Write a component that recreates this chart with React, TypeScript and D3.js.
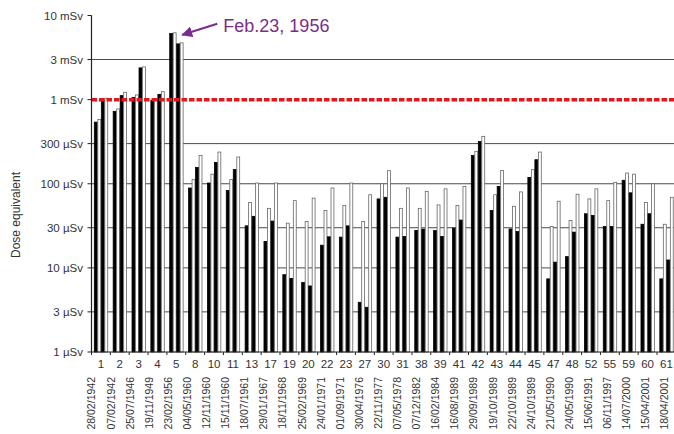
import React from "react";
import * as d3 from "d3";

const events = ["1", "2", "3", "4", "5", "8", "10", "11", "13", "17", "19", "20", "22", "23", "27", "30", "31", "38", "39", "41", "42", "43", "44", "45", "47", "48", "52", "55", "59", "60", "61"];
const dates = ["28/02/1942", "07/02/1942", "25/07/1946", "19/11/1949", "23/02/1956", "04/05/1960", "12/11/1960", "15/11/1960", "18/07/1961", "29/01/1967", "18/11/1968", "25/02/1969", "24/01/1971", "01/09/1971", "30/04/1976", "22/11/1977", "07/05/1978", "07/12/1982", "16/02/1984", "16/08/1989", "29/09/1989", "19/10/1989", "22/10/1989", "24/10/1989", "21/05/1990", "24/05/1990", "15/06/1991", "06/11/1997", "14/07/2000", "15/04/2001", "18/04/2001"];

// dose values in µSv, four bars per event (black, white, black, white)
const blackA = [540, 726, 1064, 980, 6100, 89, 102, 83, 31.6, 20.6, 8.3, 6.7, 18.6, 23.2, 3.9, 66, 23.2, 27.8, 27.8, 29.7, 217, 48, 29, 119, 7.4, 13.6, 44, 31, 110, 33, 7.4];
const whiteA = [580, 775, 1137, 1000, 6225, 112, 130, 112, 60, 51, 34, 35.6, 48, 55, 35.6, 100, 51, 51, 56, 55, 243, 74, 54, 147, 31, 36.6, 66, 63, 134, 60, 33];
const blackB = [1000, 1116, 2385, 1156, 4600, 156, 179, 148, 41, 36, 7.5, 6.1, 23.4, 31.6, 3.4, 69, 23.6, 28.9, 23.6, 37, 317, 93, 27, 193, 11.7, 26.6, 42, 31, 78, 44, 12.4];
const whiteB = [1040, 1222, 2450, 1245, 4730, 217, 238, 208, 102, 102, 63, 67.5, 89, 102, 74, 143, 89, 81, 87, 93, 366, 144, 80, 238, 62, 75, 87, 104, 130, 100, 69];

const yTicks = [1, 3, 10, 30, 100, 300, 1000, 3000, 10000];
const yTickLabels = ["1 µSv", "3 µSv", "10 µSv", "30 µSv", "100 µSv", "300 µSv", "1 mSv", "3 mSv", "10 mSv"];
const limit = 1000;
const peakEvent = "5";

const W = 674;
const H = 434;
const left = 91.5;
const bottom = 352;
const font = "'Liberation Sans', Arial, sans-serif";

const series = [
  { key: "bA", values: blackA, fill: "#000", stroke: "#000" },
  { key: "wA", values: whiteA, fill: "#fff", stroke: "#666" },
  { key: "bB", values: blackB, fill: "#000", stroke: "#000" },
  { key: "wB", values: whiteB, fill: "#fff", stroke: "#666" },
];

export default function App() {
  const y = d3.scaleLog().domain([1, 10000]).range([bottom, 15.5]);
  const x = d3.scaleBand().domain(events).range([left, left + events.length * 18.85]);
  const groupW = 14;
  const inner = d3.scaleBand().domain(series.map((s) => s.key)).range([0, groupW]);
  const off = (x.step() - groupW) / 2;
  const xd = d3.scaleBand().domain(events).range([82.4, 82.4 + events.length * 19.1]);

  const pi = events.indexOf(peakEvent);
  const tipX = (x(peakEvent) as number) + off + groupW - 1;
  const tipY = y(whiteA[pi]) + 2;

  return (
    <svg width={W} height={H} style={{ position: "absolute", left: 0, top: 0, background: "#fff" }} fontFamily={font}>
      <rect width={W} height={H} fill="#fff" />
      {yTicks.filter((t) => t !== 1 && t !== 10000 && t !== limit).map((t) => (
        <line key={t} x1={left} x2={W} y1={y(t)} y2={y(t)} stroke="#4a4a4a" strokeWidth={1} />
      ))}
      {events.map((e, i) => (
        <g key={e} transform={`translate(${(x(e) as number) + off},0)`}>
          {series.map((s) => (
            <rect
              key={s.key}
              x={(inner(s.key) as number) + 0.4}
              y={y(s.values[i])}
              width={inner.bandwidth() - 0.6}
              height={bottom - y(s.values[i])}
              fill={s.fill}
              stroke={s.stroke}
              strokeWidth={0.8}
            />
          ))}
        </g>
      ))}
      <line x1={left} x2={W} y1={y(limit)} y2={y(limit)} stroke="#e3161c" strokeWidth={3.5} strokeDasharray="5.5 2" />
      <line x1={left} x2={left} y1={y(10000)} y2={bottom} stroke="#222" strokeWidth={1.2} />
      <line x1={left} x2={W} y1={bottom} y2={bottom} stroke="#222" strokeWidth={1.2} />
      {yTicks.map((t, i) => (
        <g key={t} transform={`translate(0,${y(t)})`}>
          <line x1={left - 4} x2={left} stroke="#222" />
          <text x={83} dy="0.35em" textAnchor="end" fontSize={11.5} fill="#333">
            {yTickLabels[i]}
          </text>
        </g>
      ))}
      {d3.range(events.length + 1).map((k) => (
        <line key={k} x1={left + k * x.step()} x2={left + k * x.step()} y1={bottom} y2={bottom + 3} stroke="#222" />
      ))}
      {events.map((e) => (
        <text key={e} x={(x(e) as number) + x.bandwidth() / 2} y={367.5} textAnchor="middle" fontSize={11.5} fill="#333">
          {e}
        </text>
      ))}
      {events.map((e, i) => (
        <text
          key={e}
          transform={`translate(${(xd(e) as number) + xd.bandwidth() / 2 + 3.5},377) rotate(-90)`}
          textAnchor="end"
          fontSize={10.5}
          fill="#333"
        >
          {dates[i]}
        </text>
      ))}
      <text transform="translate(20,215) rotate(-90)" textAnchor="middle" fontSize={12} fill="#333">
        Dose equivalent
      </text>
      <defs>
        <marker id="ah" viewBox="0 0 10 10" refX={9} refY={5} markerWidth={5} markerHeight={5} orient="auto">
          <path d="M0,0 L10,5 L0,10 Z" fill="#7b2d8b" />
        </marker>
      </defs>
      <line x1={tipX + 35} y1={tipY - 11} x2={tipX} y2={tipY} stroke="#7b2d8b" strokeWidth={2.2} markerEnd="url(#ah)" />
      <text x={tipX + 41} y={tipY - 3} fontSize={18} fill="#7b2d8b">
        Feb.23, 1956
      </text>
    </svg>
  );
}
